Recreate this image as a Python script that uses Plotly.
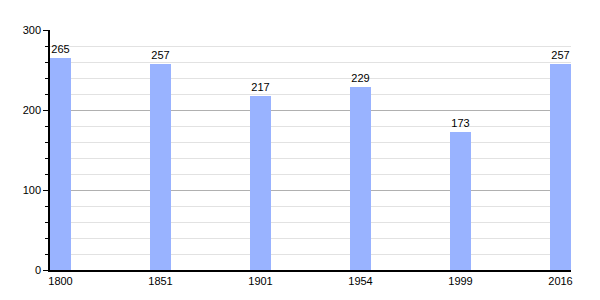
import plotly.graph_objects as go

years = ["1800", "1851", "1901", "1954", "1999", "2016"]
population = [265, 257, 217, 229, 173, 257]

bar_w = 0.21
fig = go.Figure(go.Bar(
    x=years, y=population, width=bar_w,
    marker=dict(color="#99b3ff", line=dict(width=0)),
    text=[str(v) for v in population], textposition="outside",
    textfont=dict(family="Liberation Sans, Arial", size=11, color="#000"),
    cliponaxis=False,
))
fig.update_layout(
    width=600, height=300,
    margin=dict(l=50, r=29, t=30, b=30),
    plot_bgcolor="white", paper_bgcolor="white",
    font=dict(family="Liberation Sans, Arial", size=11, color="#000"),
    showlegend=False,
    bargap=0,
)
fig.update_xaxes(
    type="category", range=[-bar_w / 2, len(years) - 1 + bar_w / 2],
    showline=True, linecolor="#000", linewidth=1.5,
    showgrid=False, ticks="", tickfont=dict(size=11), ticklabelstandoff=0,
)
fig.update_yaxes(
    range=[0, 300], dtick=100, tick0=0,
    showline=True, linecolor="#000", linewidth=1.5,
    showgrid=True, gridcolor="#b0b0b0", gridwidth=1,
    ticks="outside", ticklen=5, tickcolor="#000", tickwidth=1,
    zeroline=False,
    minor=dict(dtick=20, showgrid=True, gridcolor="#e2e2e2", gridwidth=1,
               ticks="outside", ticklen=3, tickcolor="#000"),
    tickfont=dict(size=11),
)
fig.write_html("out.html")
